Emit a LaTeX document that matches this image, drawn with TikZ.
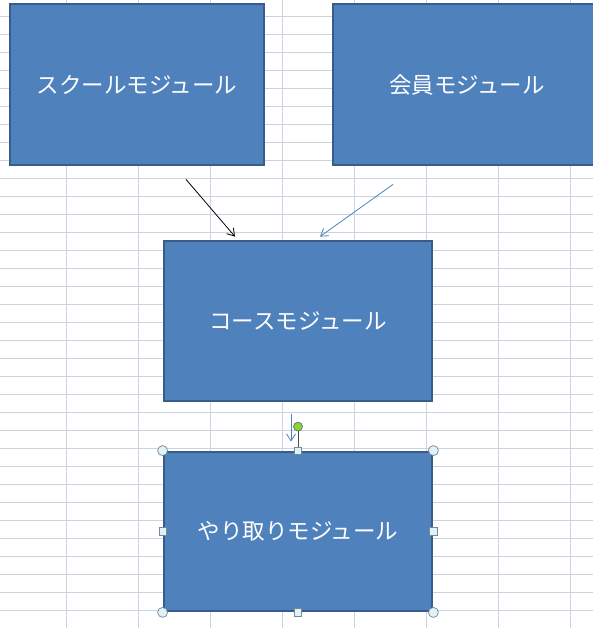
\documentclass[tikz,border=0pt]{standalone}
\usepackage{fontspec}
\newfontfamily\jpfont{Noto Sans CJK JP}
\usetikzlibrary{arrows.meta,
		calc}

\definecolor{cellgrid}{RGB}{202,211,226}
\definecolor{shapefill}{RGB}{79,129,189}
\definecolor{shapeedge}{RGB}{56,93,138}
\definecolor{handlefill}{RGB}{222,242,248}
\definecolor{handleedge}{RGB}{122,134,148}
\definecolor{rotfill}{RGB}{136,214,48}

\begin{document}
\begin{tikzpicture}[x=1pt, y=-1pt,
  module/.style={draw=shapeedge, line width=2.8pt, fill=shapefill,
    text=white, font=\jpfont\fontsize{22.5}{27}\selectfont,
    minimum height=160pt, inner sep=0pt},
  link/.style={line width=0.8pt, -{Straight Barb[length=7pt, width=9pt]}},
  corner/.style={circle, draw=handleedge, fill=handlefill, line width=0.7pt,
    minimum size=10pt, inner sep=0pt},
  side/.style={rectangle, draw=handleedge, fill=handlefill, line width=0.7pt,
    minimum size=7.5pt, inner sep=0pt}]

\useasboundingbox (0,0) rectangle (593,628);
\clip (0,0) rectangle (593,628);

% spreadsheet cells
\foreach \k in {0,...,33}
  \draw [cellgrid, line width=1pt] (0,16.3+18*\k) -- (593,16.3+18*\k);
\foreach \k in {0,...,7}
  \draw [cellgrid, line width=1pt] (66.7+72*\k,0) -- (66.7+72*\k,628);

\node [module, minimum width=254pt, minimum height=161pt] (school) at (137,84.5) {スクールモジュール};
\node [module, minimum width=268pt, minimum height=161pt] (member) at (467,84.5) {会員モジュール};
\node [module, minimum width=268pt] (course) at (298,321) {コースモジュール};
\node [module, minimum width=268pt, minimum height=159pt] (exchange) at (298,531.5) {やり取りモジュール};

\coordinate (a) at ([xshift=49pt, yshift=-13pt]school.south);
\coordinate (b) at ([xshift=-63pt, yshift=3pt]course.north);
\coordinate (c) at ([xshift=-74pt, yshift=-18pt]member.south);
\coordinate (d) at ([xshift=22pt, yshift=3pt]course.north);
\coordinate (e) at ([xshift=-7pt, yshift=-12pt]course.south);
\coordinate (f) at ([xshift=-7pt, yshift=9pt]exchange.north);

\draw [link, black] (a) -- (b);
\draw [link, shapefill] (c) -- (d);
\draw [link, shapefill] (e) -- (f);

% selection handles
\coordinate (r) at ([yshift=24pt]exchange.north);
\draw [line width=0.8pt, black!70] (exchange.north) -- (r);
\node [circle, draw=handleedge!80!black, fill=rotfill, line width=0.7pt,
  minimum size=9pt, inner sep=0pt] (rot) at (r) {};
\foreach \p in {north west, north east, south west, south east}
  \node [corner] at (exchange.\p) {};
\foreach \p in {north, south, west, east}
  \node [side] at (exchange.\p) {};

\end{tikzpicture}
\end{document}
